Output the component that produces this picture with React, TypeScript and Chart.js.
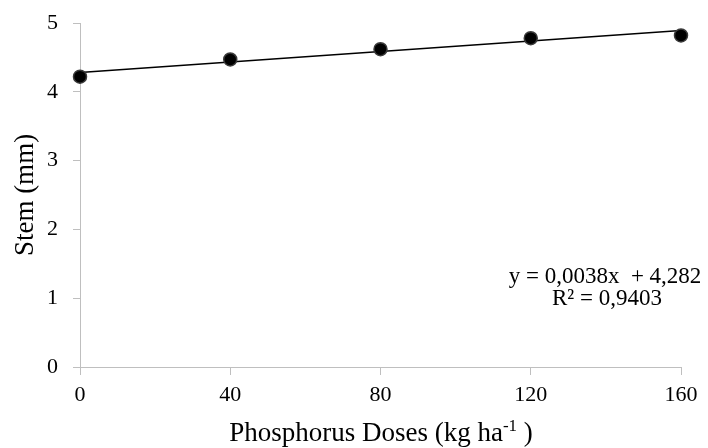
import React, { useEffect, useRef } from "react";
import { Chart, registerables } from "chart.js";

Chart.register(...registerables);

const doses = [0, 40, 80, 120, 160];
const stem = [4.22, 4.47, 4.62, 4.78, 4.82];
const slope = 0.0038;
const intercept = 4.282;
const xTicks = [0, 40, 80, 120, 160];
const yTicks = [0, 1, 2, 3, 4, 5];
const eqLine1 = "y = 0,0038x  + 4,282";
const eqLine2 = "R² = 0,9403";
const yTitle = "Stem (mm)";
const xTitleMain = "Phosphorus Doses (kg ha";
const xTitleSup = "-1";
const xTitleEnd = " )";

const FONT = "'Liberation Serif', 'Times New Roman', serif";

const textPlugin = {
  id: "textPlugin",
  afterDraw(chart: any) {
    const ctx = chart.ctx;
    ctx.save();
    ctx.fillStyle = "#000";
    // equation
    ctx.font = `23px ${FONT}`;
    ctx.textAlign = "center";
    ctx.textBaseline = "alphabetic";
    ctx.fillText(eqLine1, 605, 283);
    ctx.fillText(eqLine2, 607, 305);
    // y title
    ctx.save();
    ctx.translate(33, 195);
    ctx.rotate(-Math.PI / 2);
    ctx.font = `27px ${FONT}`;
    ctx.textAlign = "center";
    ctx.textBaseline = "alphabetic";
    ctx.fillText(yTitle, 0, 0);
    ctx.restore();
    // x title
    ctx.font = `27px ${FONT}`;
    const wMain = ctx.measureText(xTitleMain).width;
    ctx.font = `17px ${FONT}`;
    const wSup = ctx.measureText(xTitleSup).width;
    ctx.font = `27px ${FONT}`;
    const wEnd = ctx.measureText(xTitleEnd).width;
    const total = wMain + wSup + wEnd;
    let x = 381 - total / 2;
    const base = 441;
    ctx.textAlign = "left";
    ctx.fillText(xTitleMain, x, base);
    x += wMain;
    ctx.font = `17px ${FONT}`;
    ctx.fillText(xTitleSup, x, base - 10);
    x += wSup;
    ctx.font = `27px ${FONT}`;
    ctx.fillText(xTitleEnd, x, base);
    ctx.restore();
  },
};

export default function App() {
  const ref = useRef<HTMLCanvasElement>(null);
  useEffect(() => {
    document.body.style.margin = "0";
    const trend = [
      { x: doses[0], y: intercept + slope * doses[0] },
      { x: doses[doses.length - 1], y: intercept + slope * doses[doses.length - 1] },
    ];
    const chart = new Chart(ref.current!, {
      type: "scatter",
      data: {
        datasets: [
          {
            data: trend,
            showLine: true,
            borderColor: "#000",
            borderWidth: 1.5,
            pointRadius: 0,
            clip: false,
            order: 2,
          },
          {
            data: doses.map((d, i) => ({ x: d, y: stem[i] })),
            showLine: false,
            pointRadius: 6.5,
            pointBackgroundColor: "#000",
            pointBorderColor: "#3a3a3a",
            pointBorderWidth: 1.5,
            clip: false,
            order: 1,
          },
        ],
      },
      options: {
        animation: false,
        responsive: false,
        devicePixelRatio: 1,
        layout: { padding: { left: 0, right: 27, top: 23, bottom: 0 } },
        plugins: { legend: { display: false }, tooltip: { enabled: false } },
        scales: {
          x: {
            type: "linear",
            min: 0,
            max: 160,
            afterBuildTicks: (s: any) => {
              s.ticks = xTicks.map((v) => ({ value: v }));
            },
            afterFit: (s: any) => {
              s.height = 81;
              s.paddingLeft = 0;
              s.paddingRight = 0;
            },
            grid: { drawOnChartArea: false, drawTicks: true, tickLength: 8, color: "#bfbfbf", lineWidth: 1 },
            border: { color: "#bfbfbf", width: 1 },
            ticks: { color: "#000", font: { family: FONT, size: 22 }, padding: 7, maxRotation: 0 },
          },
          y: {
            min: 0,
            max: 5,
            afterBuildTicks: (s: any) => {
              s.ticks = yTicks.map((v) => ({ value: v }));
            },
            afterFit: (s: any) => {
              s.width = 80;
              s.paddingTop = 0;
              s.paddingBottom = 0;
            },
            grid: { drawOnChartArea: false, drawTicks: true, tickLength: 7, color: "#bfbfbf", lineWidth: 1 },
            border: { color: "#bfbfbf", width: 1 },
            ticks: { color: "#000", font: { family: FONT, size: 22 }, padding: 15 },
          },
        },
      },
      plugins: [textPlugin],
    });
    return () => chart.destroy();
  }, []);
  return <canvas ref={ref} width={708} height={448} style={{ display: "block" }} />;
}
